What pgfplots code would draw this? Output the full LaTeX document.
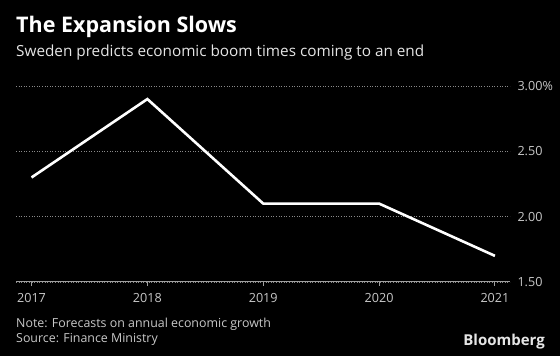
\documentclass[border=0pt]{standalone}
\usepackage{pgfplots}
\pgfplotsset{compat=1.18}
\usepackage{fontspec}
\setmainfont{Open Sans}
\definecolor{gridgray}{HTML}{8A8A8A}
\definecolor{axgray}{HTML}{A0A0A0}
\definecolor{ticktext}{HTML}{C8C8C8}
\definecolor{notetext}{HTML}{C8C8C8}
\begin{document}
\begin{tikzpicture}[x=1pt,y=1pt]
\fill[black] (0,0) rectangle (560,356);
\useasboundingbox (0,0) rectangle (560,356);
\node[anchor=base west, inner sep=0pt, text=white, font=\fontsize{21.5}{25}\selectfont\bfseries] at (16,323) {The Expansion Slows};
\node[anchor=base west, inner sep=0pt, text=white!90!black, font=\fontsize{15.3}{18}\selectfont] at (16,299) {Sweden predicts economic boom times coming to an end};
\begin{axis}[
  at={(16pt,74pt)}, anchor=south west,
  scale only axis, width=494pt, height=196pt,
  xmin=2016.866, xmax=2021.13,
  ymin=1.5, ymax=3.0,
  axis x line*=bottom, axis y line*=right,
  x axis line style={axgray, line width=1pt},
  y axis line style={draw=none},
  xtick={2017,2018,2019,2020,2021},
  xticklabels={2017,2018,2019,2020,2021},
  ytick={1.5,2.0,2.5,3.0},
  yticklabels={1.50,2.00,2.50,3.00\%},
  xtick align=outside,
  major tick length=4pt,
  major x tick style={axgray, line width=1pt},
  y tick style={draw=none},
  ymajorgrids,
  grid style={gridgray, line width=0.8pt, dash pattern=on 1pt off 1.6pt},
  tick label style={text=ticktext, font=\fontsize{12.6}{15}\selectfont},
  xticklabel style={anchor=base, yshift=-17pt},
  yticklabel style={anchor=west, xshift=4pt},
  clip=false,
]
\addplot[white, line width=2.6pt, line join=miter] coordinates {
 (2017,2.30) (2018,2.90) (2019,2.10) (2020,2.10) (2021,1.70)};
\end{axis}
\node[anchor=base west, inner sep=0pt, text=notetext, font=\fontsize{12.4}{15}\selectfont] at (16,28) {Note: Forecasts on annual economic growth};
\node[anchor=base west, inner sep=0pt, text=notetext, font=\fontsize{12.4}{15}\selectfont] at (16,13) {Source: Finance Ministry};
\node[anchor=base east, inner sep=0pt, text=white!90!black, font=\fontsize{15}{18}\selectfont\bfseries] at (545,10.3) {Bloomberg};
\end{tikzpicture}
\end{document}
